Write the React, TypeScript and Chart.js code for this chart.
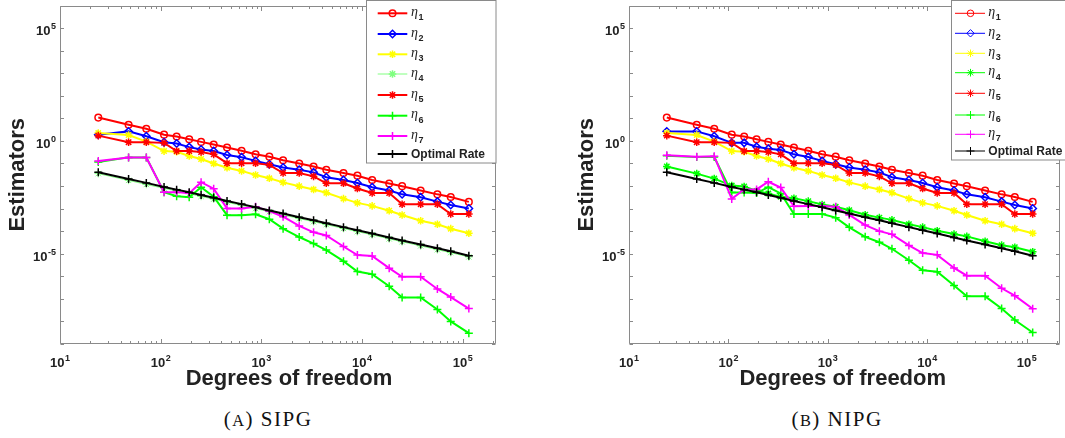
import React, { useEffect, useRef } from 'react';
import { Chart, registerables } from 'chart.js';

Chart.register(...registerables);

// ---------------- data ----------------
const dof = [24, 48, 72, 108, 144, 192, 252, 336, 456, 636, 876, 1200, 1644, 2376, 3300, 4416, 6540, 8988, 12600, 18600, 25000, 38200, 56000, 76000, 115000];

const eta1 = [10.8, 5.15, 3.45, 1.89, 1.55, 1.18, 0.904, 0.692, 0.512, 0.366, 0.254, 0.2, 0.139, 0.0993, 0.0735, 0.0526, 0.0377, 0.0288, 0.0186, 0.0129, 0.00986, 0.00638, 0.00428, 0.00327, 0.00198];
const sipgEta2 = [1.89, 2.64, 1.6, 0.875, 0.766, 0.53, 0.419, 0.354, 0.237, 0.188, 0.13, 0.0929, 0.0665, 0.0526, 0.0403, 0.0244, 0.0186, 0.0136, 0.00891, 0.00631, 0.00428, 0.00316, 0.00204, 0.00145, 0.00101];
const nipgEta2 = [2.64, 2.64, 1.6, 0.818, 0.818, 0.547, 0.448, 0.392, 0.254, 0.194, 0.13, 0.0929, 0.0665, 0.0526, 0.0403, 0.0244, 0.0186, 0.0136, 0.00891, 0.00631, 0.00428, 0.00316, 0.00204, 0.00145, 0.00101];
const eta3 = [2.23, 1.82, 0.933, 0.354, 0.331, 0.214, 0.158, 0.0993, 0.0646, 0.0468, 0.0308, 0.022, 0.0145, 0.00986, 0.00706, 0.00501, 0.00277, 0.00179, 0.00132, 0.000802, 0.000519, 0.000288, 0.000203, 0.000129, 0.0000813];
const sipgEta4 = [0.0355, 0.0178, 0.0117, 0.00794, 0.00603, 0.00457, 0.00347, 0.00263, 0.00191, 0.00138, 0.001, 0.000724, 0.000525, 0.000363, 0.000263, 0.000195, 0.000132, 0.0000955, 0.0000692, 0.0000457, 0.0000339, 0.0000224, 0.0000151, 0.0000112, 0.00000724];
const nipgEta4 = [0.0741, 0.0355, 0.0214, 0.0105, 0.00955, 0.00603, 0.00468, 0.00331, 0.00288, 0.00214, 0.00151, 0.0012, 0.000851, 0.000537, 0.000398, 0.000316, 0.000204, 0.000151, 0.000105, 0.0000741, 0.0000589, 0.0000355, 0.000024, 0.0000195, 0.0000123];
const eta5 = [1.71, 0.875, 0.875, 0.818, 0.354, 0.354, 0.321, 0.254, 0.103, 0.103, 0.103, 0.0869, 0.0377, 0.0377, 0.0269, 0.0132, 0.0132, 0.00776, 0.00489, 0.00489, 0.00157, 0.00157, 0.00157, 0.000574, 0.000574];
const sipgEta6 = [0.117, 0.186, 0.186, 0.00537, 0.00355, 0.00316, 0.00891, 0.00339, 0.000513, 0.000513, 0.000562, 0.000339, 0.000129, 0.000055, 0.0000282, 0.0000145, 0.00000468, 0.00000162, 0.00000123, 3.63e-7, 1.15e-7, 1.15e-7, 3.39e-8, 1.0e-8, 3.02e-9];
const nipgEta6 = [0.219, 0.191, 0.191, 0.00513, 0.00513, 0.0049, 0.00891, 0.00468, 0.000575, 0.000575, 0.000575, 0.000398, 0.000148, 0.0000562, 0.0000324, 0.0000166, 0.00000513, 0.00000186, 0.00000158, 3.89e-7, 1.29e-7, 1.29e-7, 3.72e-8, 1.15e-8, 3.24e-9];
const sipgEta7 = [0.129, 0.182, 0.182, 0.00537, 0.00537, 0.00479, 0.0148, 0.00759, 0.00102, 0.00102, 0.0012, 0.000776, 0.000437, 0.00017, 0.0000891, 0.0000646, 0.0000209, 0.0000087, 0.0000079, 0.00000229, 9.55e-7, 9.55e-7, 2.75e-7, 1.2e-7, 3.72e-8];
const nipgEta7 = [0.234, 0.2, 0.209, 0.00269, 0.00708, 0.00708, 0.0155, 0.00851, 0.00126, 0.00132, 0.00132, 0.0012, 0.000525, 0.000186, 0.0001, 0.0000724, 0.0000234, 0.0000107, 0.00000891, 0.00000234, 0.00000107, 0.00000107, 2.95e-7, 1.38e-7, 3.63e-8];
const optimalRate = [0.0407, 0.0204, 0.0138, 0.00912, 0.00692, 0.00525, 0.00398, 0.00302, 0.00219, 0.00158, 0.00115, 0.000832, 0.000603, 0.000417, 0.000302, 0.000224, 0.000151, 0.00011, 0.0000794, 0.0000525, 0.0000389, 0.0000257, 0.0000174, 0.0000129, 0.0000081];

const seriesNames = ['η₁', 'η₂', 'η₃', 'η₄', 'η₅', 'η₆', 'η₇', 'Optimal Rate'];
const sipgSeries = [eta1, sipgEta2, eta3, sipgEta4, eta5, sipgEta6, sipgEta7, optimalRate];
const nipgSeries = [eta1, nipgEta2, eta3, nipgEta4, eta5, nipgEta6, nipgEta7, optimalRate];

const xTickValues = [10, 100, 1000, 10000, 100000];
const yTickValues = [1e-5, 1, 1e5];
const xLimits = [10, 2.14e5];
const yLimits = [1e-9, 1e6];
const xTitle = 'Degrees of freedom';
const yTitle = 'Estimators';

// ---------------- styles ----------------
const SANS = '"Liberation Sans", Arial, Helvetica, sans-serif';
const SERIF = '"Liberation Serif", "Times New Roman", serif';
const AXIS_COLOR = '#8a8a8a';
const TEXT_COLOR = '#222222';

const sipgStyles = [
  { color: '#ff0000', marker: 'circle', r: 3.3, lw: 2 },
  { color: '#0000ff', marker: 'rectRot', r: 3.7, lw: 2 },
  { color: '#ffff00', marker: 'star', r: 3.8, lw: 2 },
  { color: '#80ff80', marker: 'star', r: 3.8, lw: 1 },
  { color: '#ff0000', marker: 'star', r: 3.8, lw: 2 },
  { color: '#00ff00', marker: 'cross', r: 4, lw: 2 },
  { color: '#ff00ff', marker: 'cross', r: 4, lw: 2 },
  { color: '#000000', marker: 'cross', r: 4, lw: 2 },
];
const nipgStyles = sipgStyles.map((s, i) => (i === 3 ? { ...s, color: '#00ff00', lw: 2 } : s));

const sameDecade = (a: number, b: number) => Math.abs(Math.log10(a) - Math.log10(b)) < 1e-6;
const exponentOf = (v: number) => String(Math.round(Math.log10(v)));

const xTickMarks: { v: number; major: boolean }[] = [];
for (let k = 1; k <= 5; k++) {
  for (let m = 1; m <= 9; m++) {
    const v = m * Math.pow(10, k);
    if (v <= xLimits[1]) xTickMarks.push({ v, major: m === 1 });
  }
}
const yTickMarks: number[] = [];
for (let k = -9; k <= 6; k++) yTickMarks.push(Math.pow(10, k));

// draws "10" with a raised exponent; anchor: 'center' (x) or 'right' (y)
function drawPow(ctx: any, v: number, x: number, baseY: number, anchor: 'center' | 'right') {
  const exp = exponentOf(v);
  ctx.font = 'bold 13px ' + SANS;
  const w1 = ctx.measureText('10').width;
  ctx.font = 'bold 9px ' + SANS;
  const w2 = ctx.measureText(exp).width;
  const total = w1 + 0.5 + w2;
  const start = anchor === 'center' ? x - total / 2 : x - total;
  ctx.textAlign = 'left';
  ctx.textBaseline = 'alphabetic';
  ctx.font = 'bold 13px ' + SANS;
  ctx.fillText('10', start, baseY);
  ctx.font = 'bold 9px ' + SANS;
  ctx.fillText(exp, start + w1 + 0.5, baseY - 5.6);
}

// ---------------- plugins ----------------
const axesPlugin = {
  id: 'matlabAxes',
  afterDraw(chart: any, _args: any, opts: any) {
    const { ctx, chartArea, scales } = chart;
    const { left, right, top, bottom } = chartArea;
    const L = Math.round(left) + 0.5, R = Math.round(right) - 0.5, T = Math.round(top) + 0.5, B = Math.round(bottom) - 0.5;
    ctx.save();
    ctx.strokeStyle = AXIS_COLOR;
    ctx.lineWidth = 1;
    ctx.beginPath();
    ctx.rect(L, T, R - L, B - T);
    for (const t of xTickMarks) {
      const px = Math.round(scales.x.getPixelForValue(t.v)) + 0.5;
      const len = t.major ? 4.5 : 2.5;
      ctx.moveTo(px, B); ctx.lineTo(px, B - len);
      ctx.moveTo(px, T); ctx.lineTo(px, T + len);
    }
    for (const v of yTickMarks) {
      const py = Math.round(scales.y.getPixelForValue(v)) + 0.5;
      ctx.moveTo(L, py); ctx.lineTo(L + 3.5, py);
      ctx.moveTo(R, py); ctx.lineTo(R - 3.5, py);
    }
    ctx.stroke();
    // tick labels with superscript exponents
    ctx.fillStyle = TEXT_COLOR;
    for (const v of xTickValues) {
      const px = scales.x.getPixelForValue(v);
      drawPow(ctx, v, px, bottom + 22.5, 'center');
    }
    for (const v of yTickValues) {
      const py = scales.y.getPixelForValue(v);
      drawPow(ctx, v, left - 4, py + 7, 'right');
    }
    // x-axis title
    ctx.font = 'bold 22px ' + SANS;
    ctx.textAlign = 'center';
    ctx.textBaseline = 'alphabetic';
    ctx.fillText(xTitle, (left + right) / 2 + (opts.xTitleShift || 0), bottom + 41);
    ctx.restore();
  },
};

function drawMarker(ctx: any, style: any, x: number, y: number, lw: number) {
  const r = style.r;
  ctx.save();
  ctx.strokeStyle = style.color;
  ctx.lineWidth = lw;
  ctx.beginPath();
  if (style.marker === 'circle') {
    ctx.arc(x, y, r, 0, Math.PI * 2);
  } else if (style.marker === 'rectRot') {
    ctx.moveTo(x, y - r); ctx.lineTo(x + r, y); ctx.lineTo(x, y + r); ctx.lineTo(x - r, y); ctx.closePath();
  } else {
    ctx.moveTo(x - r, y); ctx.lineTo(x + r, y);
    ctx.moveTo(x, y - r); ctx.lineTo(x, y + r);
    if (style.marker === 'star') {
      const d = r * Math.SQRT1_2;
      ctx.moveTo(x - d, y - d); ctx.lineTo(x + d, y + d);
      ctx.moveTo(x - d, y + d); ctx.lineTo(x + d, y - d);
    }
  }
  ctx.stroke();
  ctx.restore();
}

const SUB: Record<string, string> = { '₀': '0', '₁': '1', '₂': '2', '₃': '3', '₄': '4', '₅': '5', '₆': '6', '₇': '7', '₈': '8', '₉': '9' };

const legendPlugin = {
  id: 'matlabLegend',
  afterDraw(chart: any, _args: any, opts: any) {
    const { ctx } = chart;
    const styles = opts.styles;
    ctx.save();
    ctx.fillStyle = '#ffffff';
    ctx.fillRect(opts.box[0], opts.box[1], opts.box[2], opts.box[3]);
    ctx.strokeStyle = AXIS_COLOR;
    ctx.lineWidth = 1;
    ctx.strokeRect(opts.box[0], opts.box[1], opts.box[2], opts.box[3]);
    seriesNames.forEach((name, i) => {
      const st = styles[i];
      const y = opts.rows[i];
      ctx.strokeStyle = st.color;
      ctx.lineWidth = opts.thin ? 1 : st.lw;
      ctx.beginPath();
      ctx.moveTo(opts.lineX[0], y);
      ctx.lineTo(opts.lineX[1], y);
      ctx.stroke();
      drawMarker(ctx, st, opts.markerX, y, opts.thin ? 1 : 1.5);
      ctx.fillStyle = TEXT_COLOR;
      if (name.startsWith('η')) {
        ctx.font = 'italic 14px ' + SERIF;
        ctx.textBaseline = 'alphabetic';
        ctx.textAlign = 'left';
        ctx.fillText('η', opts.textX, y + 2.5);
        const w = ctx.measureText('η').width;
        ctx.font = 'bold 9px ' + SANS;
        const sub = name.slice(1).split('').map((c) => SUB[c] || c).join('');
        ctx.fillText(sub, opts.textX + w + 0.5, y + 7);
      } else {
        ctx.font = 'bold 12px ' + SANS;
        ctx.textBaseline = 'middle';
        ctx.textAlign = 'left';
        ctx.fillText(name, opts.textX, y + 0.5);
      }
    });
    ctx.restore();
  },
};

function makeConfig(series: number[][], styles: any[], rightPad: number, legend: any, xTitleShift: number): any {
  const datasets = series.map((vals, i) => {
    const st = styles[i];
    const open = st.marker === 'circle' || st.marker === 'rectRot';
    return {
      label: seriesNames[i],
      data: dof.map((x, j) => ({ x, y: vals[j] })),
      borderColor: st.color,
      backgroundColor: st.color,
      borderWidth: st.lw,
      pointStyle: st.marker,
      pointRadius: st.r,
      pointBorderWidth: st.lw === 1 ? 1 : 1.5,
      pointBorderColor: st.color,
      pointBackgroundColor: open ? 'rgba(0,0,0,0)' : st.color,
      tension: 0,
      fill: false,
      order: series.length - 1 - i,
    };
  });
  return {
    type: 'line',
    data: { datasets },
    options: {
      animation: false,
      responsive: false,
      maintainAspectRatio: false,
      events: [],
      layout: { padding: { top: 1, right: rightPad, left: 0, bottom: 0 } },
      plugins: {
        legend: { display: false },
        tooltip: { enabled: false },
        matlabLegend: legend,
        matlabAxes: { xTitleShift },
      },
      scales: {
        x: {
          type: 'logarithmic',
          position: 'bottom',
          min: xLimits[0],
          max: xLimits[1],
          grid: { display: false },
          border: { display: false },
          afterBuildTicks: (axis: any) => {
            axis.ticks = xTickMarks.map((t) => ({ value: t.v }));
          },
          afterFit: (axis: any) => {
            axis.height = 56;
            axis.paddingLeft = 0;
            axis.paddingRight = 0;
          },
          ticks: {
            display: false,
            autoSkip: false,
            callback: (v: number) => (xTickValues.some((t) => sameDecade(t, v)) ? '10^' + exponentOf(v) : ''),
          },
          title: { display: false, text: xTitle },
        },
        y: {
          type: 'logarithmic',
          position: 'left',
          min: yLimits[0],
          max: yLimits[1],
          grid: { display: false },
          border: { display: false },
          afterBuildTicks: (axis: any) => {
            axis.ticks = yTickMarks.map((v) => ({ value: v }));
          },
          afterFit: (axis: any) => {
            axis.width = 60;
            axis.paddingTop = 0;
            axis.paddingBottom = 0;
          },
          ticks: {
            display: false,
            autoSkip: false,
            callback: (v: number) => (yTickValues.some((t) => sameDecade(t, v)) ? '10^' + exponentOf(v) : ''),
          },
          title: {
            display: true,
            text: yTitle,
            color: TEXT_COLOR,
            font: { family: SANS, size: 22, weight: 'bold' },
            padding: { top: 5, bottom: 0 },
          },
        },
      },
    },
    plugins: [axesPlugin, legendPlugin],
  };
}

const captionStyle = (center: number): React.CSSProperties => ({
  position: 'absolute',
  left: center - 100,
  width: 200,
  top: 407,
  textAlign: 'center',
  fontFamily: SERIF,
  fontSize: 21,
  lineHeight: '24px',
  letterSpacing: '1.5px',
  color: '#111',
  whiteSpace: 'nowrap',
});

export default function App() {
  const refA = useRef<HTMLCanvasElement>(null);
  const refB = useRef<HTMLCanvasElement>(null);

  useEffect(() => {
    const a = new Chart(
      refA.current as HTMLCanvasElement,
      makeConfig(
        sipgSeries,
        sipgStyles,
        44,
        {
          styles: sipgStyles,
          box: [366.5, 0.5, 129.5, 162.5],
          rows: [13.3, 34, 54.3, 74, 95, 115.7, 136, 154],
          lineX: [377.7, 407.3],
          markerX: 392.5,
          textX: 411,
          thin: false,
        },
        11
      )
    );
    const b = new Chart(
      refB.current as HTMLCanvasElement,
      makeConfig(
        nipgSeries,
        nipgStyles,
        2,
        {
          styles: nipgStyles,
          box: [382.5, 0.5, 120, 159.5],
          rows: [13.3, 33.3, 53.3, 72.7, 93.3, 115, 134.3, 151],
          lineX: [386, 416],
          markerX: 401.5,
          textX: 419.3,
          thin: true,
        },
        -1.5
      )
    );
    return () => {
      a.destroy();
      b.destroy();
    };
  }, []);

  return (
    <div style={{ position: 'fixed', left: 0, top: 0, width: 1065, height: 438, background: '#ffffff', overflow: 'hidden' }}>
      <canvas ref={refA} width={540} height={400} style={{ position: 'absolute', left: 0, top: 0 }} />
      <canvas ref={refB} width={496} height={400} style={{ position: 'absolute', left: 569, top: 0 }} />
      <div style={captionStyle(268)}>
        (<span style={{ fontSize: '0.78em' }}>A</span>) SIPG
      </div>
      <div style={captionStyle(837)}>
        (<span style={{ fontSize: '0.78em' }}>B</span>) NIPG
      </div>
    </div>
  );
}
